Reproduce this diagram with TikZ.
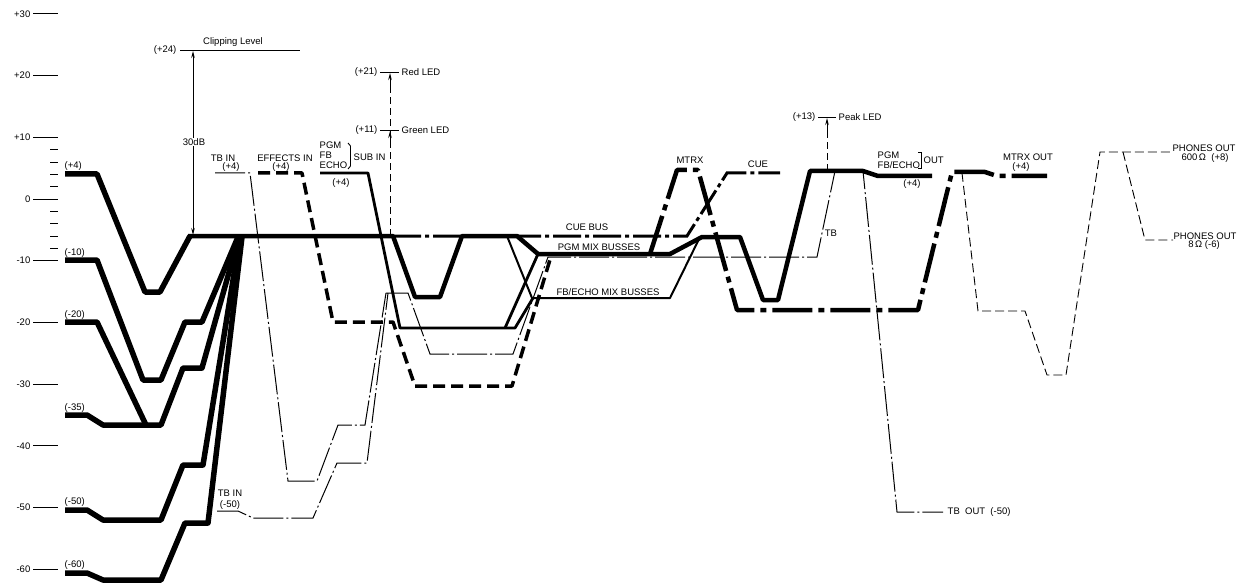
\documentclass[tikz,border=0pt]{standalone}
\usepackage{fontspec}
\setmainfont{Liberation Sans}
\usetikzlibrary{arrows.meta}
\begin{document}
\begin{tikzpicture}[x=1pt,y=-1pt,
  font=\fontsize{9.5}{10.5}\selectfont,
  lbl/.style={inner sep=0.5pt},
  inp/.style={line width=5.5pt, line join=round},
  pgm/.style={line width=4.5pt, line join=round},
  fbe/.style={line width=2pt, line join=round},
  sub/.style={line width=2.8pt, line join=round},
  tbl/.style={line width=1pt, dash pattern=on 30pt off 3pt on 2pt off 3pt},
  cuel/.style={line width=3pt, dash pattern=on 28pt off 4pt on 4pt off 4pt},
  mtrxl/.style={line width=4.5pt, dash pattern=on 40pt off 6pt on 6pt off 6pt, line join=round},
  eff/.style={line width=3.5pt, dash pattern=on 12pt off 6pt, line join=round},
  phn/.style={line width=0.9pt, dash pattern=on 9pt off 4pt},
  led/.style={line width=0.8pt, dash pattern=on 7pt off 4pt},
  thin/.style={line width=0.9pt},
  ahead/.style={-{Stealth[length=7pt,width=3.5pt]}, line width=0.9pt}]
\useasboundingbox (0,0) rectangle (1247,588);
\fill[white] (0,0) rectangle (1247,588);

% ---------- axis ----------
\foreach \v/\t in {30/+30,20/+20,10/+10,0/0,-10/-10,-20/-20,-30/-30,-40/-40,-50/-50,-60/-60}{
  \pgfmathsetmacro{\yy}{199-6.17*\v}
  \node[lbl,anchor=east] (ax\v) at (31,\yy) {\t};
  \draw[thin] (33,\yy) -- (58,\yy);
}
\foreach \v in {8,6,4,2,-2,-4,-6,-8}{
  \pgfmathsetmacro{\yy}{199-6.17*\v}
  \draw[thin] (50,\yy) -- (58,\yy);
}

% ---------- input labels ----------
\node[lbl,anchor=west] (l4) at (64,166) {(+4)};
\node[lbl,anchor=west] (l10) at (64,253) {(-10)};
\node[lbl,anchor=west] (l20) at (64,315) {(-20)};
\node[lbl,anchor=west] (l35) at (64,408) {(-35)};
\node[lbl,anchor=west] (l50) at (64,502) {(-50)};
\node[lbl,anchor=west] (l60) at (64,565) {(-60)};

% ---------- input traces ----------
\draw[inp] (65,174) -- (97,174) -- (145,292) -- (160,292) -- (190,236);
\draw[inp] (65,260) -- (97,260) -- (143,380) -- (161,380) -- (185,322) -- (202,322) -- (238,237);
\draw[inp] (65,322) -- (97,322) -- (146,425);
\draw[inp] (65,415) -- (87,415) -- (103,425) -- (161,425) -- (183,368) -- (202,368) -- (239,237);
\draw[inp] (65,510) -- (87,510) -- (103,520) -- (161,520) -- (183,465) -- (203,465) -- (240,237);
\draw[inp] (65,573) -- (87,573) -- (103,580) -- (161,580) -- (185,523) -- (208,523) -- (242,237);

% ---------- clipping ----------
\draw[thin] (180,50) -- (300,50);
\node[lbl,anchor=east] (clipv) at (177,50) {(+24)};
\node[lbl,anchor=south] (clipt) at (233,47) {Clipping Level};
\draw[ahead] (193,140) -- (193,51);
\draw[ahead] (193,146) -- (193,235);
\node[lbl,fill=white] (db30) at (194,142) {30dB};

% ---------- LEDs ----------
\draw[led] (390,236) -- (390,76);
\draw[ahead] (390,90) -- (390,73);
\draw[ahead] (390,148) -- (390,131);
\draw[thin] (380,72) -- (399,72);
\draw[thin] (380,130) -- (399,130);
\node[lbl,anchor=east] (r21) at (378,72) {(+21)};
\node[lbl,anchor=west] (rled) at (401,72) {Red LED};
\node[lbl,anchor=east] (g11) at (378,130) {(+11)};
\node[lbl,anchor=west] (gled) at (401,130) {Green LED};

\draw[led] (827,171) -- (827,122);
\draw[ahead] (827,134) -- (827,118);
\draw[thin] (818,117) -- (836,117);
\node[lbl,anchor=east] (p13) at (816,117) {(+13)};
\node[lbl,anchor=west] (pled) at (838,117) {Peak LED};

% ---------- input labels (top) ----------
\node[lbl] (tbin) at (223,158) {TB IN};
\node[lbl] (tbin4) at (231,167) {(+4)};
\node[lbl] (effin) at (285,158) {EFFECTS IN};
\node[lbl] (effin4) at (281,167) {(+4)};
\node[lbl,anchor=west] (spgm) at (319,145) {PGM};
\node[lbl,anchor=west] (sfb) at (319,155) {FB};
\node[lbl,anchor=west] (secho) at (319,165) {ECHO};
\draw[thin] (348,143) -- (350.5,146) -- (350.5,166) -- (348,169);
\node[lbl,anchor=west] (subin) at (353,157) {SUB IN};
\node[lbl] (sub4) at (341,183) {(+4)};
\node[lbl] (tbin50a) at (230,493) {TB IN};
\node[lbl] (tbin50b) at (230,505) {(-50)};

% ---------- TB traces ----------
\draw[tbl] (215,173) -- (250,173) -- (288,481) -- (317,481) -- (338,425) -- (365,425) -- (386,293);
\draw[tbl] (217,511) -- (238,511) -- (253,518) -- (313,518) -- (337,463) -- (367,463) -- (388,293);
\draw[tbl] (386,293) -- (408,293) -- (430,354) -- (513,354) -- (548,257) -- (817,257) -- (835,171) -- (863,171) -- (897,512) -- (943,512);
\node[lbl,anchor=west] (tbout) at (947,512) {TB\ \ OUT\ \ (-50)};
\node[lbl] (tblab) at (831,233) {TB};

% ---------- effects ----------
\draw[eff] (258,173) -- (302,173) -- (333,322) -- (393,322) -- (415,386) -- (512,386) -- (552,253);

% ---------- sub in ----------
\draw[sub] (320,173) -- (368,173) -- (400,328) -- (515,328) -- (533,298);
\draw[sub] (505,328) -- (538,254);

% ---------- cue bus ----------
\draw[cuel] (393,236) -- (687,236) -- (727,173) -- (780,173);
\node[lbl] (cuebus) at (587,227) {CUE BUS};
\node[lbl] (cue) at (758,164) {CUE};

% ---------- FB/ECHO mix ----------
\draw[fbe] (507,236) -- (532,298) -- (670,298) -- (700,237);
\node[lbl] (fbmix) at (608,292) {FB/ECHO MIX BUSSES};

% ---------- main / PGM ----------
\draw[pgm] (188,236) -- (393,236) -- (415,297) -- (440,297) -- (462,236) -- (517,236) -- (538,254) -- (670,254) -- (702,237) -- (740,237) -- (763,300) -- (778,300) -- (810,171) -- (863,171) -- (878,176) -- (932,176);
\node[lbl] (pgmmix) at (599,247) {PGM MIX BUSSES};
\node[lbl,anchor=west] (opgm) at (877,155) {PGM};
\node[lbl,anchor=west] (ofb) at (877,165) {FB/ECHO};
\draw[thin] (918,152) -- (921,152) -- (921,168) -- (918,168);
\node[lbl,anchor=west] (oout) at (923,160) {OUT};
\node[lbl] (o4) at (912,184) {(+4)};

% ---------- MTRX ----------
\draw[mtrxl] (650,254) -- (677,170) -- (698,170) -- (737,310) -- (918,310) -- (952,172) -- (985,172) -- (997,176) -- (1047,176);
\node[lbl] (mtrx) at (690,160) {MTRX};
\node[lbl] (mtrxout) at (1028,157) {MTRX OUT};
\node[lbl] (mtrx4) at (1021,167) {(+4)};

% ---------- phones ----------
\draw[phn] (962,173) -- (978,311) -- (1025,311) -- (1047,375) -- (1066,375) -- (1100,152) -- (1173,152);
\draw[phn] (1123,152) -- (1145,240) -- (1173,240);
\node[lbl] (ph1) at (1204,148) {PHONES OUT};
\node[lbl] (ph1b) at (1205,158) {600\,Ω\ \ (+8)};
\node[lbl] (ph2) at (1205,236) {PHONES OUT};
\node[lbl] (ph2b) at (1204,245) {8\,Ω (-6)};
\end{tikzpicture}
\end{document}
